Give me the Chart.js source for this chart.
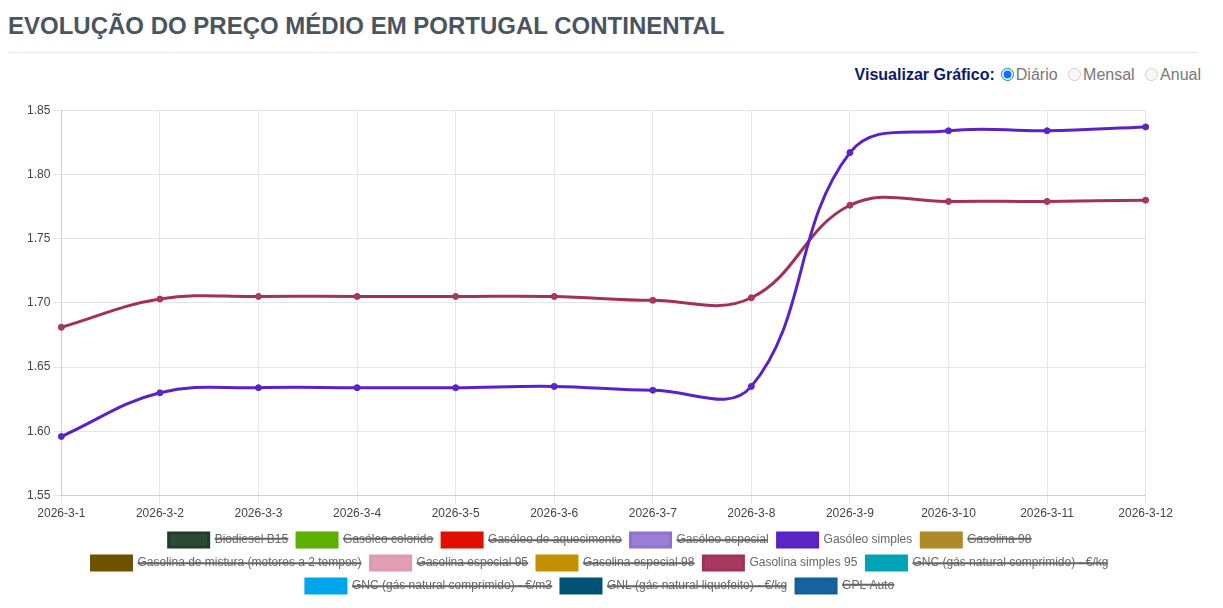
<!DOCTYPE html>
<html><head><meta charset="utf-8">
<script src="https://cdn.jsdelivr.net/npm/chart.js@4"></script>
<style>
body{margin:0;font-family:"Liberation Sans",Arial,sans-serif;background:#fff;}
h1{margin:0;position:absolute;left:8px;top:12px;font-size:24px;color:#4a5560;font-weight:bold;}
.hr{position:absolute;left:8px;right:25px;top:52px;border-top:1px solid #e5e5e5;}
.viz{position:absolute;right:22px;top:66px;font-size:16px;color:#777;}
.viz b{color:#0a1a6e;}
.viz input{margin:0 2px 0 6px;vertical-align:-1px;}
#wrap{position:absolute;left:24px;top:100px;width:1152px;height:503px;}
</style></head><body>
<h1>EVOLUÇÃO DO PREÇO MÉDIO EM PORTUGAL CONTINENTAL</h1>
<div class="hr"></div>
<div class="viz"><b>Visualizar Gráfico:</b><input type="radio" checked>Diário <input type="radio" disabled>Mensal <input type="radio" disabled>Anual</div>
<div id="wrap"><canvas id="c"></canvas></div>
<script>
var labels = ["2026-3-1","2026-3-2","2026-3-3","2026-3-4","2026-3-5","2026-3-6","2026-3-7","2026-3-8","2026-3-9","2026-3-10","2026-3-11","2026-3-12"];
var gasoleoSimples = [1.596,1.630,1.634,1.634,1.634,1.635,1.632,1.635,1.817,1.834,1.834,1.837];
var gasolina95 = [1.681,1.703,1.705,1.705,1.705,1.705,1.702,1.704,1.776,1.779,1.779,1.780];
var names = ["Biodiesel B15","Gasóleo colorido","Gasóleo de aquecimento","Gasóleo especial","Gasóleo simples","Gasolina 98","Gasolina de mistura (motores a 2 tempos)","Gasolina especial 95","Gasolina especial 98","Gasolina simples 95","GNC (gás natural comprimido) - €/kg","GNC (gás natural comprimido) - €/m3","GNL (gás natural liquefeito) - €/kg","GPL Auto"];
var colors = ["#1f3d2b","#5cb000","#e00f00","#9370d0","#5b21c9","#b08a28","#6e5200","#de9aaf","#c49000","#a3305a","#00a3b5","#00a6ed","#005274","#135f9e"];
var fills = ["#2d4a37","#5cb000","#e00f00","#9b7fd6","#5b26c4","#b08a28","#6e5200","#e09fb3","#c49000","#a83a60","#00a3b5","#00a6ed","#005274","#1763a0"];

Chart.defaults.font.family = "'Liberation Sans', Arial, sans-serif";

var datasets = names.map(function(n, i) {
    var d = [];
    if (n == "Gasóleo simples") d = gasoleoSimples;
    if (n == "Gasolina simples 95") d = gasolina95;
    return {
        label: n,
        data: d,
        hidden: d.length == 0,
        borderColor: colors[i],
        backgroundColor: fills[i],
        borderWidth: 3,
        pointRadius: 3,
        pointBorderWidth: 1,
        tension: 0.4,
        fill: false
    };
});

new Chart(document.getElementById("c"), {
    type: "line",
    data: {labels: labels, datasets: datasets},
    options: {
        responsive: true,
        maintainAspectRatio: false,
        animation: false,
        layout: {padding: {top: 4}},
        scales: {
            x: {ticks: {color: "#444", font: {size: 12}, maxRotation: 0}, grid: {color: "#e5e5e5"}},
            y: {min: 1.55, max: 1.85, ticks: {stepSize: 0.05, color: "#444", font: {size: 12}, callback: v => v.toFixed(2)}, grid: {color: "#e5e5e5"}}
        },
        plugins: {
            legend: {
                position: "bottom",
                labels: {boxWidth: 40, boxHeight: 14, color: "#666", font: {size: 12}, padding: 9}
            },
            tooltip: {enabled: false}
        }
    }
});
</script>
</body></html>
